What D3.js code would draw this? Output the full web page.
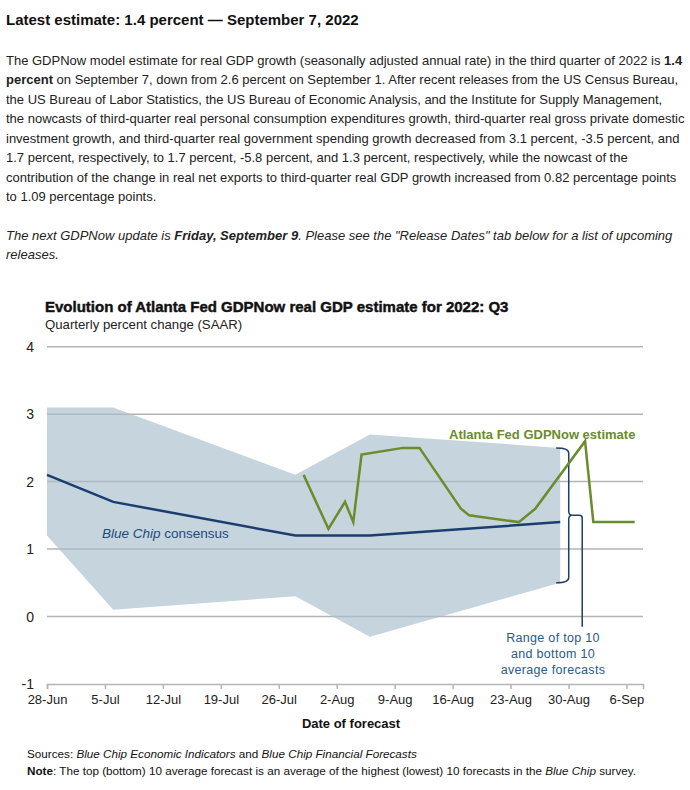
<!DOCTYPE html>
<html>
<head>
<meta charset="utf-8">
<script src="https://cdn.jsdelivr.net/npm/d3@7"></script>
<style>
  html, body { margin: 0; padding: 0; background: #fff; }
  svg { display: block; }
</style>
</head>
<body>
<svg id="chart" width="690" height="790"></svg>
<script>
// ---- Data ----
const bandDates = ["2022-06-28", "2022-07-06", "2022-07-28", "2022-08-06", "2022-08-29"];
const bandHigh = [3.1, 3.1, 2.1, 2.7, 2.5];
const bandLow = [1.2, 0.1, 0.3, -0.3, 0.5];
const consensus = [2.1, 1.7, 1.2, 1.2, 1.4];

const gdpNowDates = ["2022-07-29", "2022-08-01", "2022-08-03", "2022-08-04", "2022-08-05",
  "2022-08-10", "2022-08-12", "2022-08-17", "2022-08-18", "2022-08-24", "2022-08-26",
  "2022-09-01", "2022-09-02", "2022-09-07"];
const gdpNow = [2.1, 1.3, 1.7, 1.4, 2.4, 2.5, 2.5, 1.6, 1.5, 1.4, 1.6, 2.6, 1.4, 1.4];

const yTicks = [-1, 0, 1, 2, 3, 4];
const xTickDates = ["2022-06-28", "2022-07-05", "2022-07-12", "2022-07-19", "2022-07-26",
  "2022-08-02", "2022-08-09", "2022-08-16", "2022-08-23", "2022-08-30", "2022-09-06"];
const xTickLabels = ["28-Jun", "5-Jul", "12-Jul", "19-Jul", "26-Jul", "2-Aug", "9-Aug",
  "16-Aug", "23-Aug", "30-Aug", "6-Sep"];

// ---- Setup ----
const parse = d3.utcParse("%Y-%m-%d");
const svg = d3.select("#chart");
const FONT = "'Liberation Sans', Arial, sans-serif";

const x = d3.scaleUtc()
  .domain([parse("2022-06-28"), parse("2022-09-08")])
  .range([47, 643]);
const y = d3.scaleLinear().domain([-1, 4]).range([684, 346.7]);

// ---- Header text ----
svg.append("text").attr("x", 6).attr("y", 24.5)
  .attr("font-family", FONT).attr("font-size", 15).attr("font-weight", "bold")
  .attr("fill", "#111")
  .text("Latest estimate: 1.4 percent \u2014 September 7, 2022");

const para = [
  [["The GDPNow model estimate for real GDP growth (seasonally adjusted annual rate) in the third quarter of 2022 is ", false], ["1.4", true]],
  [["percent", true], [" on September 7, down from 2.6 percent on September 1. After recent releases from the US Census Bureau,", false]],
  [["the US Bureau of Labor Statistics, the US Bureau of Economic Analysis, and the Institute for Supply Management,", false]],
  [["the nowcasts of third-quarter real personal consumption expenditures growth, third-quarter real gross private domestic", false]],
  [["investment growth, and third-quarter real government spending growth decreased from 3.1 percent, -3.5 percent, and", false]],
  [["1.7 percent, respectively, to 1.7 percent, -5.8 percent, and 1.3 percent, respectively, while the nowcast of the", false]],
  [["contribution of the change in real net exports to third-quarter real GDP growth increased from 0.82 percentage points", false]],
  [["to 1.09 percentage points.", false]]
];
para.forEach((line, i) => {
  const t = svg.append("text").attr("x", 6).attr("y", 64.5 + i * 19.5)
    .attr("font-family", FONT).attr("font-size", 13).attr("fill", "#222");
  line.forEach(([s, b]) => {
    t.append("tspan").attr("font-weight", b ? "bold" : "normal").text(s);
  });
});

const ital = [
  [["The next GDPNow update is ", false], ["Friday, September 9", true], [". Please see the \"Release Dates\" tab below for a list of upcoming", false]],
  [["releases.", false]]
];
ital.forEach((line, i) => {
  const t = svg.append("text").attr("x", 6).attr("y", 239.5 + i * 19.5)
    .attr("font-family", FONT).attr("font-size", 13).attr("font-style", "italic").attr("fill", "#222");
  line.forEach(([s, b]) => {
    t.append("tspan").attr("font-weight", b ? "bold" : "normal").text(s);
  });
});

// ---- Chart titles ----
svg.append("text").attr("x", 45).attr("y", 311.5)
  .attr("font-family", FONT).attr("font-size", 15).attr("font-weight", "bold")
  .attr("fill", "#111").attr("stroke", "#111").attr("stroke-width", 0.45)
  .text("Evolution of Atlanta Fed GDPNow real GDP estimate for 2022: Q3");
svg.append("text").attr("x", 45).attr("y", 329)
  .attr("font-family", FONT).attr("font-size", 13.2).attr("fill", "#222")
  .text("Quarterly percent change (SAAR)");

// ---- Gridlines ----
const [xr0, xr1] = x.range();
svg.append("g").selectAll("line")
  .data(yTicks.filter(v => v > -1))
  .join("line")
  .attr("x1", xr0).attr("x2", xr1)
  .attr("y1", d => y(d)).attr("y2", d => y(d))
  .attr("stroke", "#b4b4b4").attr("stroke-width", 1.5);

// ---- Band ----
const bandData = bandDates.map((d, i) => ({ date: parse(d), hi: bandHigh[i], lo: bandLow[i], c: consensus[i] }));
svg.append("path")
  .datum(bandData)
  .attr("d", d3.area().x(d => x(d.date)).y0(d => y(d.lo)).y1(d => y(d.hi)))
  .attr("fill", "#a7bdcb").attr("fill-opacity", 0.65);

// ---- Y axis labels ----
svg.append("g").selectAll("text")
  .data(yTicks)
  .join("text")
  .attr("x", 34).attr("y", d => y(d)).attr("dy", "0.36em")
  .attr("text-anchor", "end")
  .attr("font-family", FONT).attr("font-size", 14).attr("fill", "#222")
  .text(d => d);

// ---- X axis ----
const xAxis = d3.axisBottom(x)
  .tickValues(xTickDates.map(parse))
  .tickFormat((d, i) => xTickLabels[i])
  .tickSizeOuter(0)
  .tickSize(5)
  .tickPadding(6);
const gx = svg.append("g").attr("transform", `translate(0,${y(-1)})`).call(xAxis);
gx.select(".domain").attr("stroke", "#b4b4b4").attr("stroke-width", 1.5);
gx.selectAll(".tick line").attr("stroke", "#b4b4b4").attr("stroke-width", 1.5);
gx.selectAll(".tick text").attr("font-family", FONT).attr("font-size", 13).attr("fill", "#222");

svg.append("text").attr("x", 351).attr("y", 728)
  .attr("text-anchor", "middle")
  .attr("font-family", FONT).attr("font-size", 13).attr("font-weight", "bold").attr("fill", "#111")
  .text("Date of forecast");

// ---- Consensus line ----
svg.append("path")
  .datum(bandData)
  .attr("d", d3.line().x(d => x(d.date)).y(d => y(d.c)))
  .attr("fill", "none").attr("stroke", "#1b3d70").attr("stroke-width", 2.5);

// ---- Bracket annotation ----
const last = bandData[bandData.length - 1];
const bx0 = x(last.date) - 4, spine = bx0 + 12.5, tip = bx0 + 16;
const yT = y(last.hi), yB = y(last.lo), yM = (yT + yB) / 2;
svg.append("path")
  .attr("d", `M${bx0},${yT} Q${spine},${yT} ${spine},${yT + 5} L${spine},${yM - 4} Q${spine},${yM} ${tip},${yM} Q${spine},${yM} ${spine},${yM + 4} L${spine},${yB - 5} Q${spine},${yB} ${bx0},${yB}`)
  .attr("fill", "none").attr("stroke", "#1b3d70").attr("stroke-width", 1.5);
svg.append("path")
  .attr("d", `M${tip},${yM} L${tip + 7},${yM} Q${tip + 10},${yM} ${tip + 10},${yM + 3} L${tip + 10},${y(-0.15)}`)
  .attr("fill", "none").attr("stroke", "#1b3d70").attr("stroke-width", 1.5);

// ---- GDPNow line ----
const gdpData = gdpNowDates.map((d, i) => ({ date: parse(d), v: gdpNow[i] }));
svg.append("path")
  .datum(gdpData)
  .attr("d", d3.line().x(d => x(d.date)).y(d => y(d.v)))
  .attr("fill", "none").attr("stroke", "#6a8c2a").attr("stroke-width", 2.5)
  .attr("stroke-linejoin", "miter");

// ---- Labels ----
svg.append("text").attr("x", 449).attr("y", 439)
  .attr("font-family", FONT).attr("font-size", 13).attr("font-weight", "bold").attr("fill", "#6a8c2a")
  .text("Atlanta Fed GDPNow estimate");

const bc = svg.append("text").attr("x", 102).attr("y", 538)
  .attr("font-family", FONT).attr("font-size", 13.5).attr("fill", "#1f4b7a");
bc.append("tspan").attr("font-style", "italic").text("Blue Chip");
bc.append("tspan").text(" consensus");

["Range of top 10", "and bottom 10", "average forecasts"].forEach((s, i) => {
  svg.append("text").attr("x", 553).attr("y", 642 + i * 16)
    .attr("text-anchor", "middle")
    .attr("font-family", FONT).attr("font-size", 12.5).attr("fill", "#2a5a88")
    .attr("letter-spacing", 0.3)
    .text(s);
});

// ---- Footnotes ----
const s1 = svg.append("text").attr("x", 27).attr("y", 758)
  .attr("font-family", FONT).attr("font-size", 11.7).attr("fill", "#111");
s1.append("tspan").text("Sources: ");
s1.append("tspan").attr("font-style", "italic").text("Blue Chip Economic Indicators");
s1.append("tspan").text(" and ");
s1.append("tspan").attr("font-style", "italic").text("Blue Chip Financial Forecasts");

const s2 = svg.append("text").attr("x", 27).attr("y", 775)
  .attr("font-family", FONT).attr("font-size", 11.7).attr("fill", "#111");
s2.append("tspan").attr("font-weight", "bold").text("Note");
s2.append("tspan").text(": The top (bottom) 10 average forecast is an average of the highest (lowest) 10 forecasts in the ");
s2.append("tspan").attr("font-style", "italic").text("Blue Chip");
s2.append("tspan").text(" survey.");
</script>
</body>
</html>
